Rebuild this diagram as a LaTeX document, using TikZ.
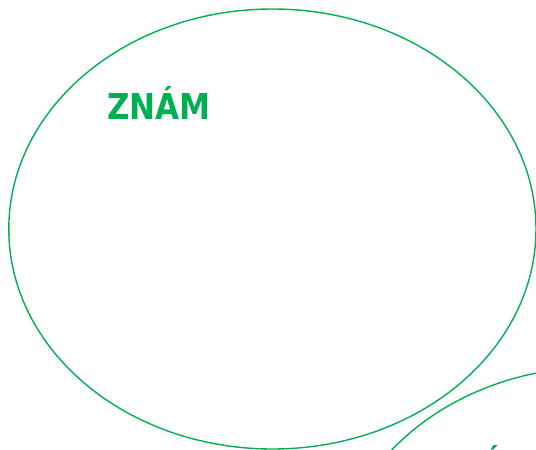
\documentclass[tikz,border=0pt]{standalone}
\usepackage{fontspec}
\setmainfont{DejaVu Sans}[FakeStretch=0.87]
\usetikzlibrary{positioning,shapes.geometric}
\definecolor{setgreen}{RGB}{0,176,80}

\begin{document}
\begin{tikzpicture}[x=1pt,y=-1pt,
  setring/.style={draw=setgreen, line width=1.4pt},
  setlab/.style={font=\fontsize{35.7}{40}\selectfont\bfseries, text=setgreen, inner sep=0pt, anchor=base west}]

% ===== FRAME =====
\clip (0,0) rectangle (536,450);
\useasboundingbox (0,0) rectangle (536,450);

% ===== SETS =====
\draw[setring] (272.4,229) ellipse [x radius=263.6, y radius=220];
\draw[setring] (598,587) ellipse [x radius=263.6, y radius=220];

% ===== LABELS =====
\node[setlab] (known) at (107,119) {ZNÁM};
\node[setlab] (other) at (481,478) {Á};

\end{tikzpicture}
\end{document}
